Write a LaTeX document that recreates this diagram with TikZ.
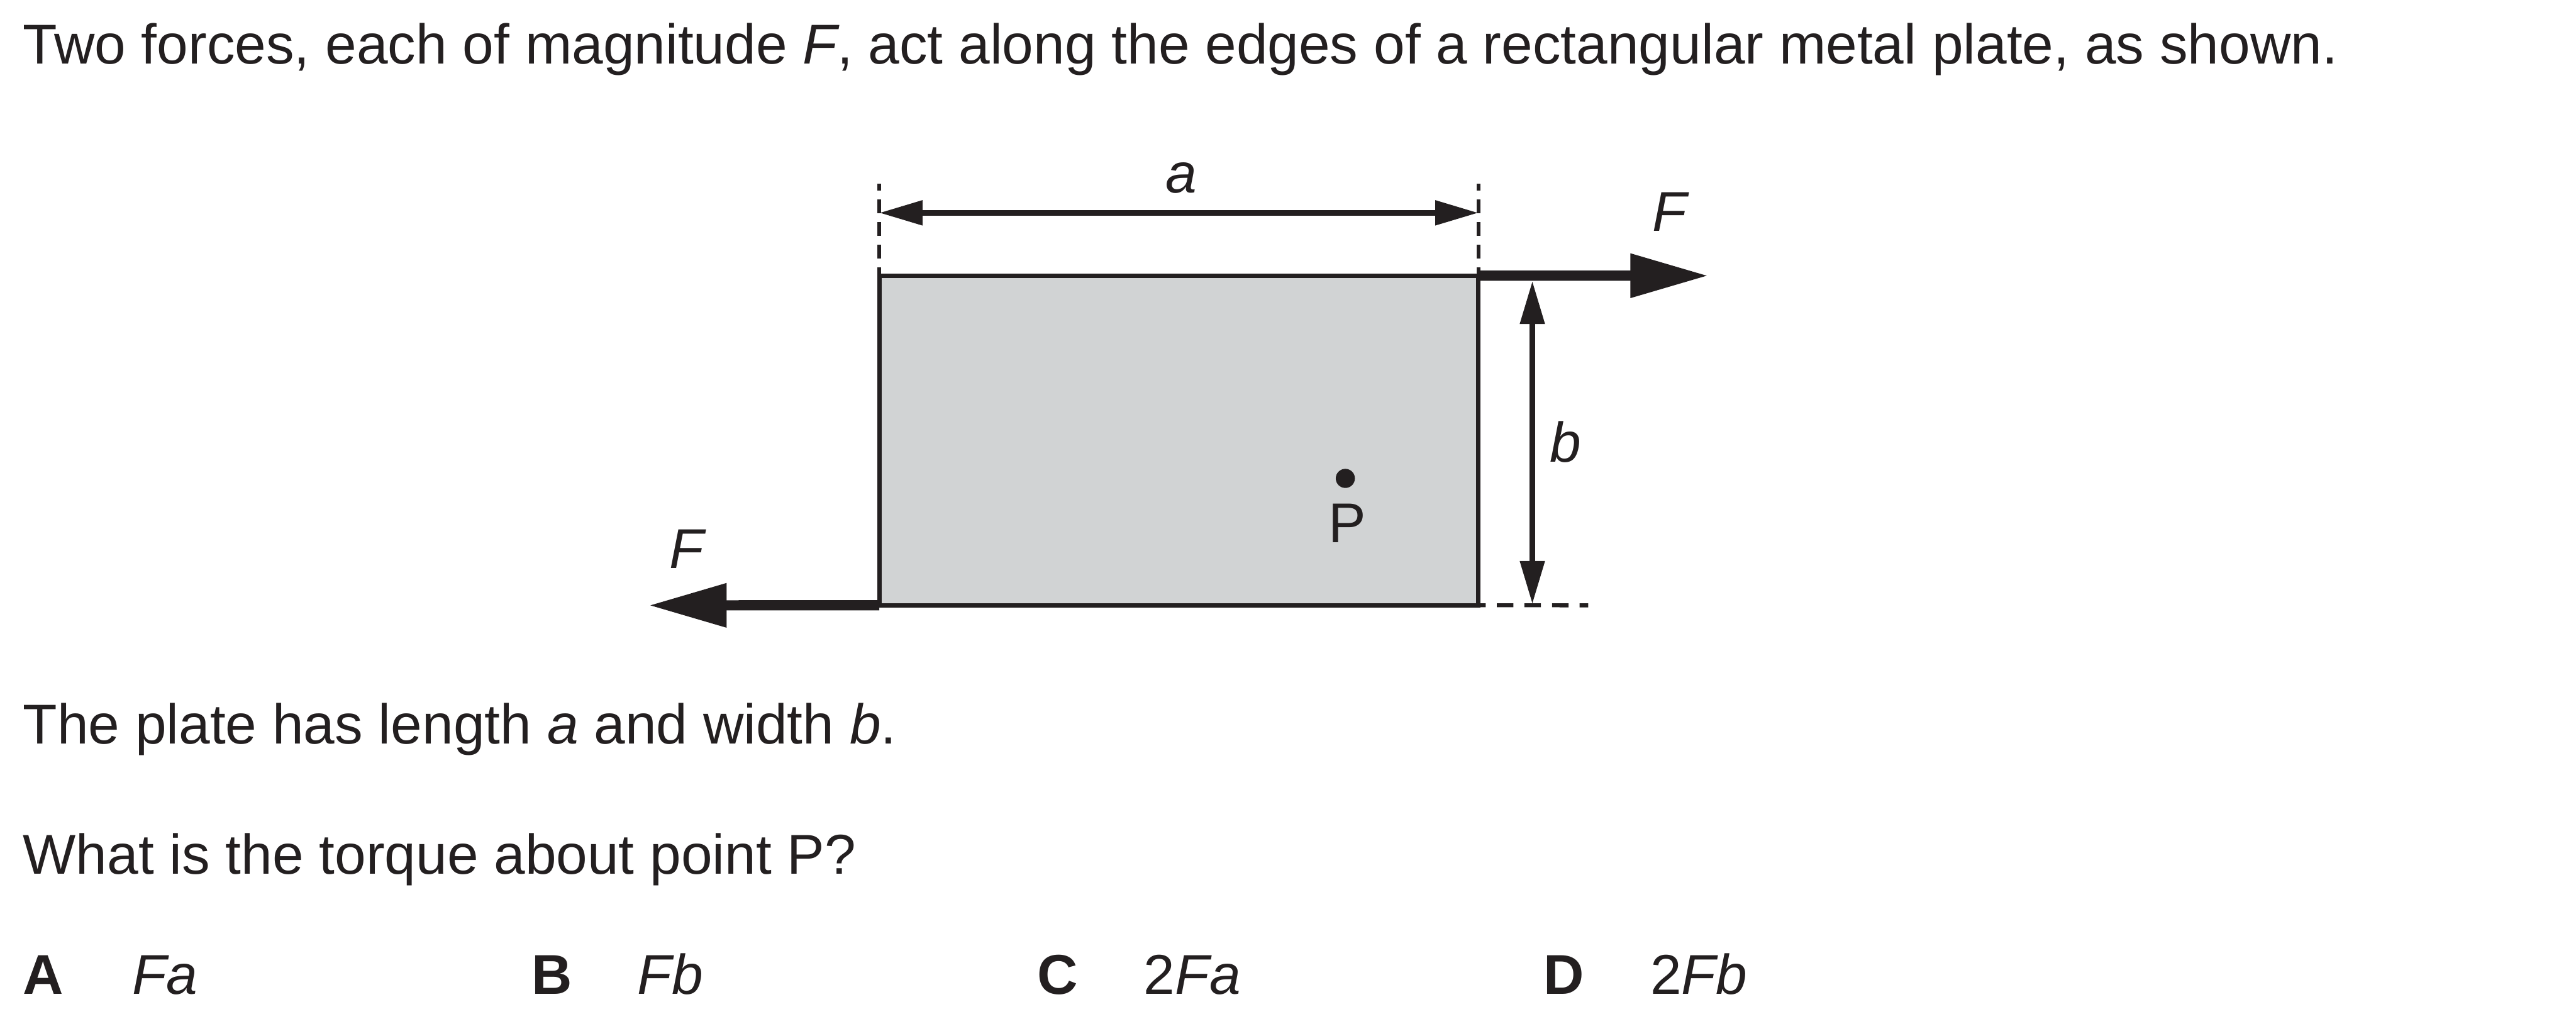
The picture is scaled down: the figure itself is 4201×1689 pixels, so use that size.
\documentclass[tikz,border=0pt]{standalone}
\usepackage{fontspec}
\setmainfont{Liberation Sans}
\usetikzlibrary{arrows.meta}
\definecolor{ink}{HTML}{231F20}
\definecolor{plategray}{HTML}{D1D3D4}
\tikzset{
  every picture/.style={line join=miter, >=Stealth},
  txt/.style={anchor=base west, inner sep=0pt, text=ink, font=\fontsize{12.1}{14}\selectfont},
  lbl/.style={anchor=base, inner sep=0pt, text=ink, font=\fontsize{12.1}{14}\selectfont},
  plate/.style={draw=ink, fill=plategray, line width=0.95pt, inner sep=0pt, outer sep=0pt,
    minimum width=129.2pt, minimum height=71.05pt},
  force/.style={ink, line width=2.2pt, -{Triangle[length=16.8pt, width=9pt]}},
  dimline/.style={ink, line width=1.25pt,
    {Triangle[length=9.3pt, width=5.1pt]}-{Triangle[length=9.3pt, width=5.1pt]}},
  extline/.style={ink, line width=0.85pt, dash pattern=on 2.97pt off 1.92pt, dash phase=1.19pt},
  baseext/.style={ink, line width=0.85pt, dash pattern=on 3.57pt off 2.38pt, dash phase=2pt},
}

\begin{document}
\begin{tikzpicture}[x=0.1322pt, y=-0.1322pt]
\useasboundingbox (0,0) rectangle (4201,1689);
\node[txt] (title) at (36,104) {Two forces, each of magnitude \textit{F}, act along the edges of a rectangular metal plate, as shown.};
\node[txt] (dims) at (36,1213) {The plate has length \textit{a} and width \textit{b}.};
\node[txt] (quest) at (36,1425) {What is the torque about point P?};
\node[txt, font=\fontsize{12.1}{14}\selectfont\bfseries] (optA) at (36,1621) {A};
\node[txt] (ansA) at (214,1621) {\textit{Fa}};
\node[txt, font=\fontsize{12.1}{14}\selectfont\bfseries] (optB) at (866,1621) {B};
\node[txt] (ansB) at (1038,1621) {\textit{Fb}};
\node[txt, font=\fontsize{12.1}{14}\selectfont\bfseries] (optC) at (1690,1621) {C};
\node[txt] (ansC) at (1864,1621) {2\textit{Fa}};
\node[txt, font=\fontsize{12.1}{14}\selectfont\bfseries] (optD) at (2516,1621) {D};
\node[txt] (ansD) at (2690,1621) {2\textit{Fb}};

\coordinate (extL) at (1434,299);
\coordinate (extR) at (2411,299);
\coordinate (aL) at (1434,347);
\coordinate (aR) at (2411,347);
\coordinate (bT) at (2499,458);
\coordinate (bB) at (2499,985);
\coordinate (extB) at (2590,987);
\coordinate (tipR) at (2786,449.5);
\coordinate (tipL) at (1058,987);

\draw[extline] (1434,449.5) -- (extL);
\draw[extline] (2411,449.5) -- (extR);
\node[plate] (plate) at (1922.5,718.25) {};
\draw[baseext] (plate.south east) -- (extB);
\draw[dimline] (aL) -- (aR);
\draw[dimline] (bT) -- (bB);
\draw[force] (plate.north east) -- (tipR);
\draw[force] (plate.south west) -- (tipL);
\fill[ink] (2194,780) circle (2.06pt) node (dotP) {};

\node[lbl] (la) at (1926,314) {\textit{a}};
\node[lbl] (lb) at (2553,753) {\textit{b}};
\node[lbl] (lFR) at (2725,377) {\textit{F}};
\node[lbl] (lFL) at (1122,927) {\textit{F}};
\node[lbl] (lP) at (2197,885) {P};
\end{tikzpicture}
\end{document}
